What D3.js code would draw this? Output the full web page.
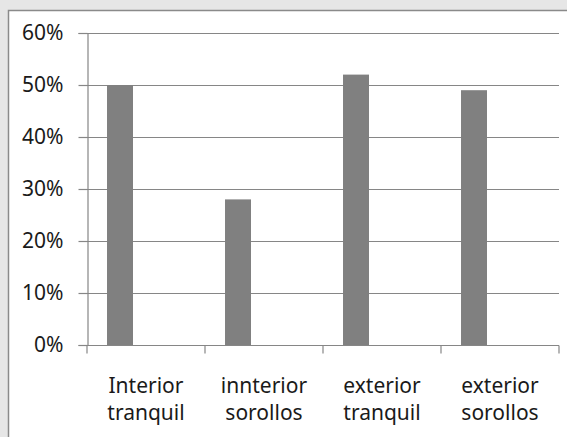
<!DOCTYPE html>
<html>
<head>
<meta charset="utf-8">
<script src="https://cdn.jsdelivr.net/npm/d3@7"></script>
<style>
  body { margin: 0; background: #e6e6e6; }
  svg { display: block; }
</style>
</head>
<body>
<script>
const categories = [["Interior", "tranquil"], ["innterior", "sorollos"], ["exterior", "tranquil"], ["exterior", "sorollos"]];
const series = ["s1", "s2", "s3"];
const values = [0.50, 0.28, 0.52, 0.49];
const yTicks = [0, 0.1, 0.2, 0.3, 0.4, 0.5, 0.6];

const width = 567, height = 437;
const margin = { top: 33, right: 8, bottom: 92, left: 87 };

const svg = d3.select("body").append("svg")
  .attr("width", width)
  .attr("height", height);

// chart area (white box with grey border, cut at right/bottom)
svg.append("rect")
  .attr("x", 8.5).attr("y", 10.5)
  .attr("width", width).attr("height", height)
  .attr("fill", "#fff")
  .attr("stroke", "#8a8a8a")
  .attr("stroke-width", 1.5);

const x0 = d3.scaleBand()
  .domain(d3.range(categories.length))
  .range([margin.left, width - margin.right])
  .padding(0);

const x1 = d3.scaleBand()
  .domain(series)
  .range([0, x0.bandwidth()])
  .paddingOuter(0.77)
  .paddingInner(0);

const y = d3.scaleLinear()
  .domain([0, 0.6])
  .range([height - margin.bottom, margin.top]);

const font = "'Noto Sans', 'Open Sans', sans-serif";
const fontSize = 21;

// gridlines
svg.append("g")
  .selectAll("line")
  .data(yTicks.slice(1))
  .join("line")
  .attr("x1", margin.left)
  .attr("x2", width - margin.right)
  .attr("y1", (d) => Math.round(y(d)) + 0.5)
  .attr("y2", (d) => Math.round(y(d)) + 0.5)
  .attr("stroke", "#868686")
  .attr("stroke-width", 1.2);

// bars
svg.append("g")
  .selectAll("rect")
  .data(values)
  .join("rect")
  .attr("x", (d, i) => x0(i) + x1("s1"))
  .attr("width", x1.bandwidth())
  .attr("y", (d) => y(d))
  .attr("height", (d) => y(0) - y(d))
  .attr("fill", "#808080");

// y axis
const yAxis = svg.append("g")
  .attr("transform", `translate(${margin.left + 0.5},0)`)
  .call(d3.axisLeft(y).tickValues(yTicks).tickFormat(d3.format(".0%")).tickSize(9).tickPadding(15));

yAxis.select(".domain").attr("stroke", "#868686").attr("stroke-width", 1.2);
yAxis.selectAll(".tick line").attr("stroke", "#868686").attr("stroke-width", 1.2);
yAxis.selectAll(".tick text")
  .attr("font-family", font)
  .attr("font-size", fontSize)
  .attr("fill", "#1a1a1a");

// x axis
const xAxisG = svg.append("g")
  .attr("transform", `translate(0,${Math.round(y(0)) + 0.5})`);

xAxisG.append("line")
  .attr("x1", margin.left).attr("x2", width - margin.right)
  .attr("stroke", "#868686").attr("stroke-width", 1.2);

xAxisG.selectAll(".xt")
  .data(d3.range(categories.length + 1))
  .join("line")
  .attr("class", "xt")
  .attr("x1", (d) => d < categories.length ? x0(d) : x0(d - 1) + x0.bandwidth())
  .attr("x2", (d) => d < categories.length ? x0(d) : x0(d - 1) + x0.bandwidth())
  .attr("y1", 0).attr("y2", 8)
  .attr("stroke", "#868686").attr("stroke-width", 1.2);

const labels = xAxisG.selectAll(".xl")
  .data(categories)
  .join("text")
  .attr("class", "xl")
  .attr("x", (d, i) => x0(i) + x0.bandwidth() / 2)
  .attr("y", 47)
  .attr("text-anchor", "middle")
  .attr("font-family", font)
  .attr("font-size", fontSize)
  .attr("fill", "#1a1a1a");

labels.selectAll("tspan")
  .data((d) => d)
  .join("tspan")
  .attr("x", function () { return d3.select(this.parentNode).attr("x"); })
  .attr("dy", (d, i) => (i === 0 ? 0 : 27))
  .text((d) => d);
</script>
</body>
</html>
